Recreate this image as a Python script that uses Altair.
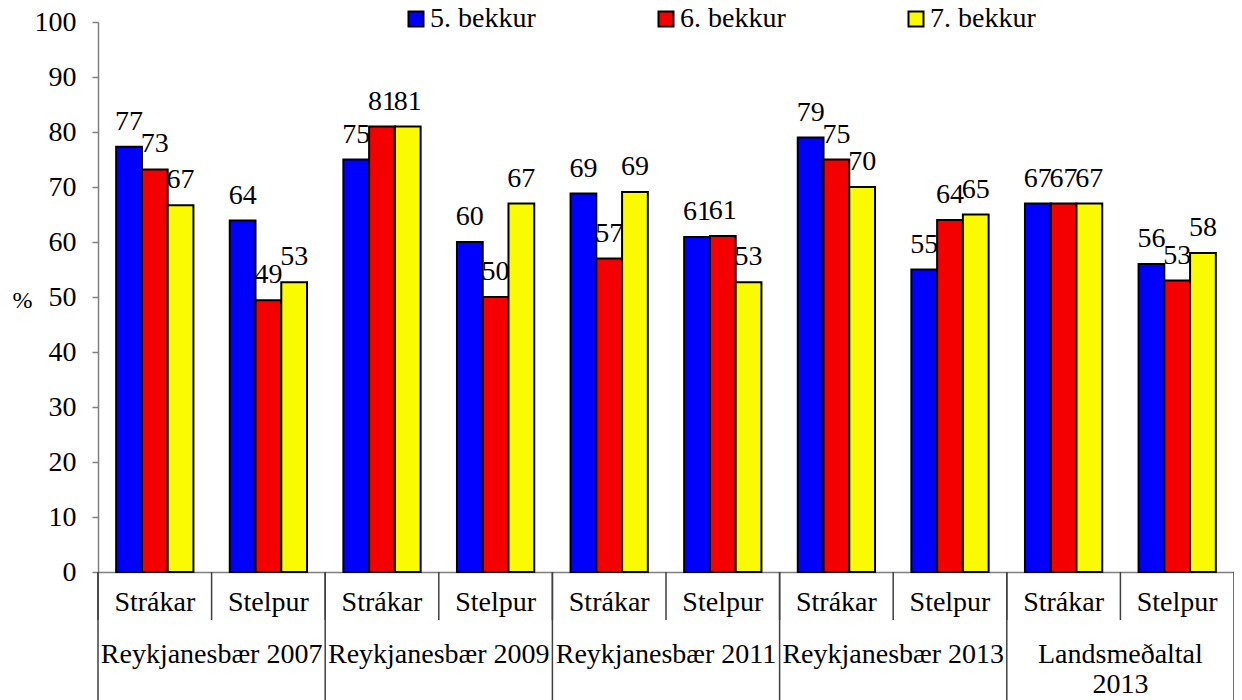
import altair as alt
import pandas as pd

groups = ["Reykjanesbær 2007", "Reykjanesbær 2009", "Reykjanesbær 2011",
          "Reykjanesbær 2013", "Landsmeðaltal\n2013"]
genders = ["Strákar", "Stelpur"]
series = ["5. bekkur", "6. bekkur", "7. bekkur"]
colors = ["#0000FF", "#F40000", "#FAFA00"]

v5 = [77.3, 63.9, 75.0, 60.0, 68.8, 60.9, 79.0, 55.0, 67.0, 56.0]
v6 = [73.2, 49.4, 81.0, 50.0, 57.0, 61.1, 75.0, 64.0, 67.0, 53.0]
v7 = [66.7, 52.7, 81.0, 67.0, 69.1, 52.7, 70.0, 65.0, 67.0, 58.0]

FONT = "Liberation Serif"

cats = [f"{g}|{s}" for g in groups for s in genders]
rows = []
for s, vals in zip(series, [v5, v6, v7]):
    for c, v in zip(cats, vals):
        rows.append({"cat": c, "series": s, "value": v})
df = pd.DataFrame(rows)

xscale = alt.Scale(domain=cats, paddingInner=0, paddingOuter=0)
oscale = alt.Scale(domain=series, paddingInner=0, paddingOuter=0.705)

base = alt.Chart(df)

bars = base.mark_bar(stroke="black", strokeWidth=2).encode(
    x=alt.X("cat:N", scale=xscale, axis=alt.Axis(
        title=None, labelExpr="split(datum.label, '|')[1]", labelAngle=0,
        labelFont=FONT, labelFontSize=28, labelColor="black",
        labelBaseline="alphabetic", labelPadding=38, ticks=False,
        domainColor="#808080", domainWidth=1.5)),
    xOffset=alt.XOffset("series:N", scale=oscale),
    y=alt.Y("value:Q", scale=alt.Scale(domain=[0, 100]), axis=alt.Axis(
        values=list(range(0, 101, 10)), grid=False, title="%",
        titleAngle=0, titleX=-76, titleY=278, titleAlign="center",
        titleBaseline="middle", titleFont=FONT, titleFontSize=24,
        titleFontWeight="normal", titleColor="black",
        labelFont=FONT, labelFontSize=28, labelColor="black",
        labelPadding=16, tickSize=6, tickColor="#808080", tickWidth=1.5,
        domainColor="#808080", domainWidth=1.5)),
    color=alt.Color("series:N", scale=alt.Scale(domain=series, range=colors),
                    legend=alt.Legend(
                        title=None, orient="none", direction="horizontal",
                        legendX=304, legendY=-17, symbolType="square",
                        symbolSize=225, symbolStrokeColor="black",
                        symbolStrokeWidth=2, labelFont=FONT, labelFontSize=28,
                        labelColor="black", labelOffset=0, columnPadding=116,
                        labelLimit=300, padding=0)),
)

labels = base.mark_text(font=FONT, fontSize=28, color="black",
                        baseline="alphabetic", dy=-17).encode(
    x=alt.X("cat:N", scale=xscale),
    xOffset=alt.XOffset("series:N", scale=oscale),
    y=alt.Y("value:Q"),
    text=alt.Text("value:Q", format=".0f"),
)

sep_df = pd.DataFrame({"cat": cats})
seps = alt.Chart(sep_df).mark_rule(color="#404040", strokeWidth=1.5).encode(
    x=alt.X("cat:N", scale=xscale, bandPosition=0),
    y=alt.value(550), y2=alt.value(598),
)

grp_df = pd.DataFrame({"cat": [f"{g}|{genders[0]}" for g in groups]})
grp_rules = alt.Chart(grp_df).mark_rule(color="#404040", strokeWidth=1.5).encode(
    x=alt.X("cat:N", scale=xscale, bandPosition=0),
    y=alt.value(550), y2=alt.value(690),
)
end_df = pd.DataFrame({"cat": [cats[-1]]})
end_rule = alt.Chart(end_df).mark_rule(color="#404040", strokeWidth=1.5).encode(
    x=alt.X("cat:N", scale=xscale, bandPosition=1),
    y=alt.value(550), y2=alt.value(690),
)

glab_df = pd.DataFrame({"cat": [f"{g}|{genders[1]}" for g in groups],
                        "label": groups})
glabels = alt.Chart(glab_df).mark_text(
    font=FONT, fontSize=28, color="black", baseline="alphabetic",
    align="center", lineBreak="\n", lineHeight=30).encode(
    x=alt.X("cat:N", scale=xscale, bandPosition=0),
    y=alt.value(641),
    text="label:N",
)

chart = alt.layer(bars, labels, seps, grp_rules, end_rule, glabels).properties(
    width=1136, height=550,
    autosize=alt.AutoSizeParams(type="none"),
    padding={"left": 90, "top": 14, "right": 0, "bottom": 130},
).configure_view(stroke=None)

chart.save("out.html", embed_options={"renderer": "svg", "actions": False})
